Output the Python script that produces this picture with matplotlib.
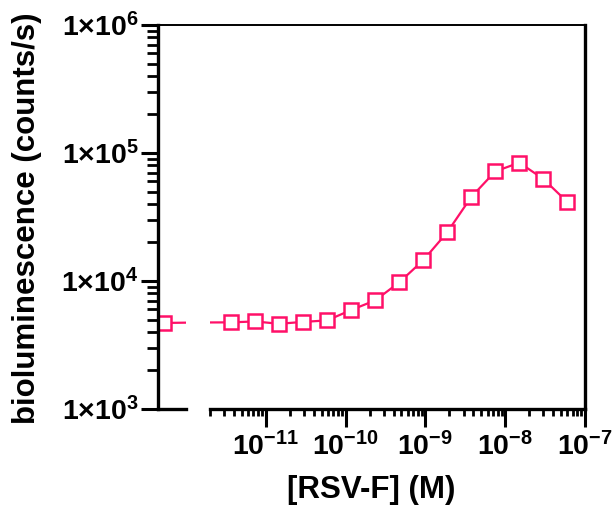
import numpy as np
import matplotlib
matplotlib.use("Agg")
import matplotlib.pyplot as plt
from matplotlib.lines import Line2D
from matplotlib.ticker import FixedLocator, LogLocator, NullFormatter, FixedFormatter

plt.rcParams['font.family'] = ['Liberation Sans', 'DejaVu Sans']
plt.rcParams['font.weight'] = 'bold'
plt.rcParams['mathtext.fontset'] = 'custom'
plt.rcParams['mathtext.rm'] = 'Liberation Sans:bold'
plt.rcParams['mathtext.bf'] = 'Liberation Sans:bold'
plt.rcParams['mathtext.it'] = 'Liberation Sans:bold'

PINK = "#FF1068"

# 2-fold dilution series starting at 60 nM, plus a zero-concentration control
conc = 60e-9 / 2.0 ** np.arange(14, -1, -1)
signal = [4750, 4830, 4630, 4790, 4920, 5930, 7050, 9740, 14500,
          24000, 45300, 71800, 84000, 62700, 41400]
zero_signal = 4700

y_ticks = [1e3, 1e4, 1e5, 1e6]
y_labels = [r"$\mathbf{1{\times}10^{3}}$", r"$\mathbf{1{\times}10^{4}}$",
            r"$\mathbf{1{\times}10^{5}}$", r"$\mathbf{1{\times}10^{6}}$"]
x_ticks = [1e-11, 1e-10, 1e-9, 1e-8, 1e-7]
x_labels = [r"$\mathbf{10^{-11}}$", r"$\mathbf{10^{-10}}$", r"$\mathbf{10^{-9}}$",
            r"$\mathbf{10^{-8}}$", r"$\mathbf{10^{-7}}$"]

fig = plt.figure(figsize=(6.15, 5.12), dpi=100)
bottom, height = 0.2012, 0.750
ax1 = fig.add_axes([0.2569, bottom, 0.0455, height])
ax2 = fig.add_axes([0.3415, bottom, 0.6098, height], sharey=ax1)

SPINE_W = 2.4
marker_style = dict(marker='s', ms=9.5, mfc='white', mec=PINK, mew=1.8, linestyle='None')

# left segment: zero concentration
ax1.set_yscale('log')
ax1.set_ylim(1e3, 1e6)
ax1.set_xlim(-0.25, 0.92)
ax1.plot([0, ax1.get_xlim()[1] * 2], [zero_signal, signal[0]], color=PINK, lw=1.6)
ax1.plot([0], [zero_signal], **marker_style)
for s in ['top', 'right']:
    ax1.spines[s].set_visible(False)
for s in ['left', 'bottom']:
    ax1.spines[s].set_linewidth(SPINE_W)
ax1.set_xticks([])
ax1.yaxis.set_major_locator(FixedLocator(y_ticks))
ax1.yaxis.set_major_formatter(FixedFormatter(y_labels))
ax1.yaxis.set_minor_locator(LogLocator(base=10, subs=np.arange(2, 10), numticks=20))
ax1.yaxis.set_minor_formatter(NullFormatter())
ax1.tick_params(axis='y', which='major', length=12.5, width=2.2, labelsize=20.5, pad=1.5)
ax1.tick_params(axis='y', which='minor', length=8, width=2.0)

# right segment: dilution series
ax2.set_xscale('log')
ax2.set_xlim(2e-12, 1e-7)
ax2.plot(np.r_[conc[0] / 100, conc], np.r_[zero_signal, signal], color=PINK, lw=1.6)
ax2.plot(conc, signal, **marker_style)
for s in ['top', 'left']:
    ax2.spines[s].set_visible(False)
for s in ['right', 'bottom']:
    ax2.spines[s].set_linewidth(SPINE_W)
ax2.tick_params(axis='y', which='both', left=False, labelleft=False)
ax2.xaxis.set_major_locator(FixedLocator(x_ticks))
ax2.xaxis.set_major_formatter(FixedFormatter(x_labels))
ax2.xaxis.set_minor_locator(LogLocator(base=10, subs=np.arange(2, 10), numticks=20))
ax2.xaxis.set_minor_formatter(NullFormatter())
ax2.tick_params(axis='x', which='major', length=13, width=2.2, labelsize=20.5, pad=4)
ax2.tick_params(axis='x', which='minor', length=5, width=2.0)

# thin top frame line across the break
fig.add_artist(Line2D([0.2569, 0.9513], [bottom + height, bottom + height],
                      transform=fig.transFigure, color='black', lw=1.4))

fig.text(0.604, 0.043, "[RSV-F] (M)", ha='center', va='center',
         fontsize=22.5, fontweight='bold')
fig.text(0.044, 0.574, "bioluminescence (counts/s)", ha='center', va='center',
         rotation=90, fontsize=22.5, fontweight='bold')

fig.savefig("out.png", dpi=100, facecolor='white')
